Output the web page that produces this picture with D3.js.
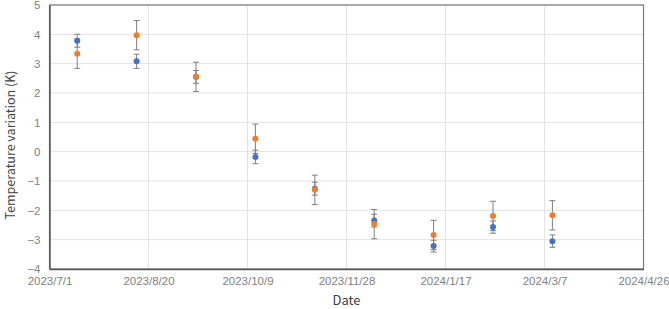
<!DOCTYPE html>
<html>
<head>
<meta charset="utf-8">
<script src="https://cdn.jsdelivr.net/npm/d3@7"></script>
<style>
  body { margin: 0; background: #fff; }
  svg { font-family: "Noto Sans CJK JP", "Noto Sans", sans-serif; }
</style>
</head>
<body>
<svg id="chart" width="669" height="309"></svg>
<script>
// measurement dates
var dates = ["2023-07-15", "2023-08-14", "2023-09-13", "2023-10-13", "2023-11-12",
             "2023-12-12", "2024-01-11", "2024-02-10", "2024-03-11"];
// series A (blue) and its error
var blueVals = [3.78, 3.08, 2.55, -0.18, -1.26, -2.35, -3.22, -2.57, -3.05];
var blueErr  = [0.22, 0.24, 0.22, 0.23, 0.22, 0.22, 0.20, 0.21, 0.21];
// series B (orange) and its error
var orangeVals = [3.34, 3.97, 2.55, 0.44, -1.30, -2.47, -2.84, -2.19, -2.17];
var orangeErr  = [0.50, 0.50, 0.50, 0.50, 0.50, 0.50, 0.50, 0.50, 0.50];
// axis ticks
var xTicks = ["2023-07-01", "2023-08-20", "2023-10-09", "2023-11-28", "2024-01-17", "2024-03-07", "2024-04-26"];
var yTicks = [-4, -3, -2, -1, 0, 1, 2, 3, 4, 5];

var parse = d3.timeParse("%Y-%m-%d");
var fmt = d => d.getFullYear() + "/" + (d.getMonth() + 1) + "/" + d.getDate();

var svg = d3.select("#chart");
var pLeft = 49.5, pRight = 643.5, pTop = 5, pBottom = 269;

var x = d3.scaleTime()
          .domain([parse(xTicks[0]), parse(xTicks[xTicks.length - 1])])
          .range([pLeft, pRight]);
var y = d3.scaleLinear().domain([-4, 5]).range([pBottom, pTop]);

// gridlines
svg.append("g")
    .selectAll("line")
    .data(yTicks)
    .enter().append("line")
    .attr("x1", pLeft).attr("x2", pRight)
    .attr("y1", d => y(d)).attr("y2", d => y(d))
    .attr("stroke", "#e3e3e3").attr("stroke-width", 1);

svg.append("g")
    .selectAll("line")
    .data(xTicks.map(parse))
    .enter().append("line")
    .attr("x1", d => x(d)).attr("x2", d => x(d))
    .attr("y1", pTop).attr("y2", pBottom)
    .attr("stroke", "#e3e3e3").attr("stroke-width", 1);

// plot frame
svg.append("rect")
    .attr("x", pLeft).attr("y", pTop)
    .attr("width", pRight - pLeft).attr("height", pBottom - pTop)
    .attr("fill", "none").attr("stroke", "#7a7a7a").attr("stroke-width", 1.2);

// axes
var yAxis = svg.append("g")
    .attr("transform", "translate(" + pLeft + ",0)")
    .call(d3.axisLeft(y).tickValues(yTicks).tickSize(0).tickPadding(9));
var xAxis = svg.append("g")
    .attr("transform", "translate(0," + pBottom + ")")
    .call(d3.axisBottom(x).tickValues(xTicks.map(parse)).tickFormat(fmt).tickSize(0).tickPadding(8));

[xAxis, yAxis].forEach(function (g) {
  g.select(".domain").attr("stroke", "#595959").attr("stroke-width", 1.5);
  g.selectAll("text").attr("fill", "#7f7f7f").attr("font-size", "11.5px");
});

// axis titles
svg.append("text")
    .attr("x", (pLeft + pRight) / 2).attr("y", 305)
    .attr("text-anchor", "middle")
    .attr("font-size", "13px").attr("fill", "#404040")
    .text("Date");
svg.append("text")
    .attr("transform", "translate(15,145) rotate(-90)")
    .attr("text-anchor", "middle")
    .attr("font-size", "12.5px").attr("fill", "#404040")
    .text("Temperature variation (K)");

function drawSeries(vals, errs) {
  var data = dates.map((d, i) => ({ date: parse(d), v: vals[i], e: errs[i] }));
  var bars = svg.append("g").selectAll("g").data(data).enter().append("g")
      .attr("stroke", "#7f7f7f").attr("stroke-width", 1);
  bars.append("line")
      .attr("x1", d => x(d.date)).attr("x2", d => x(d.date))
      .attr("y1", d => y(d.v + d.e)).attr("y2", d => y(d.v - d.e));
  bars.append("line")
      .attr("x1", d => x(d.date) - 3).attr("x2", d => x(d.date) + 3)
      .attr("y1", d => y(d.v + d.e)).attr("y2", d => y(d.v + d.e));
  bars.append("line")
      .attr("x1", d => x(d.date) - 3).attr("x2", d => x(d.date) + 3)
      .attr("y1", d => y(d.v - d.e)).attr("y2", d => y(d.v - d.e));
  return data;
}

var blueData = drawSeries(blueVals, blueErr);
var orangeData = drawSeries(orangeVals, orangeErr);

svg.append("g").selectAll("circle").data(blueData).enter().append("circle")
    .attr("cx", d => x(d.date)).attr("cy", d => y(d.v)).attr("r", 3)
    .attr("fill", "#4472C4");
svg.append("g").selectAll("circle").data(orangeData).enter().append("circle")
    .attr("cx", d => x(d.date)).attr("cy", d => y(d.v)).attr("r", 3)
    .attr("fill", "#ED7D31");
</script>
</body>
</html>
